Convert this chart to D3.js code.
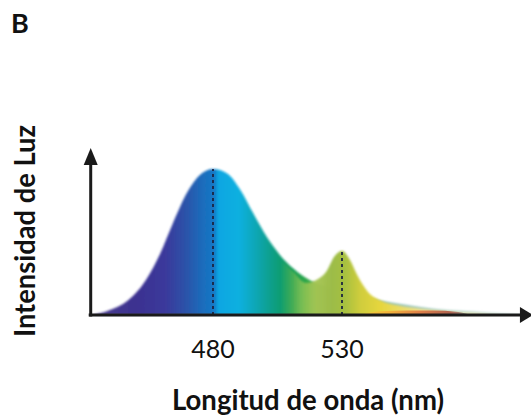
<!DOCTYPE html>
<html>
<head>
<meta charset="utf-8">
<script src="https://cdn.jsdelivr.net/npm/d3@7"></script>
<style>
  body { margin: 0; background: #fff; }
  svg { display: block; }
</style>
</head>
<body>
<div id="chart"></div>
<script>
"use strict";

// Main emission band (nm, relative intensity)
var mainWavelengths = [433, 440, 447, 454, 459.5, 464.5, 470, 475, 480, 485.5, 490.5, 495.5, 501, 506, 511, 518.5, 525, 530, 537, 545, 555, 565, 580, 595, 606];
var mainIntensity   = [0, 0.035, 0.10, 0.24, 0.42, 0.63, 0.84, 0.96, 1.0, 0.97, 0.86, 0.70, 0.53, 0.41, 0.32, 0.23, 0.19, 0.16, 0.13, 0.10, 0.07, 0.045, 0.025, 0.01, 0];

// Secondary narrow band
var peakWavelengths = [506, 511, 516, 520, 524, 527, 530, 533, 536, 540, 545, 552, 560, 570, 585, 592];
var peakIntensity   = [0.38, 0.30, 0.22, 0.24, 0.30, 0.40, 0.44, 0.38, 0.27, 0.16, 0.10, 0.065, 0.045, 0.025, 0.01, 0];

// Warm strip along the baseline
var stripWavelengths = [536, 545, 555, 565, 575, 580];
var stripIntensity   = [0, 0.025, 0.03, 0.03, 0.02, 0];

// Tick labels / marked peaks
var tickValues = [480, 530];
var peakMarks = [{nm: 480, v: 1.0}, {nm: 530, v: 0.44}];

// Colour stops of the spectrum fills: [nm, colour, opacity]
var mainStops = [
  [433, "#4b3f8f", 1], [450, "#3c3190", 1], [462, "#3a3a9c", 1], [470, "#2a55aa", 1],
  [476, "#1b6cbc", 1], [480.5, "#1579c6", 1], [482, "#08a6e2", 1], [490, "#0db0e0", 1],
  [497, "#0ea6b2", 1], [504, "#0c9e80", 1], [511, "#0f9c55", 1], [517, "#36a948", 1],
  [524, "#86b7a0", 1], [540, "#8fbfb2", 1], [565, "#a9d0c6", 1], [606, "#e4f0ec", 1]
];
var peakStops = [
  [506, "#9cc850", 0], [514, "#a8cc58", 0.6], [520, "#a4c450", 0.95], [526, "#9cbc48", 1],
  [531, "#a6c040", 1], [537, "#cfcd3c", 1], [545, "#e6d63c", 1], [560, "#eee08a", 1],
  [592, "#f4f0d0", 1]
];
var stripStops = [
  [536, "#f2d43a", 1], [548, "#f3b43a", 1], [560, "#e08048", 1], [572, "#b06450", 1], [580, "#90a8a0", 1]
];

var width = 531, height = 416;

var svg = d3.select("#chart").append("svg")
  .attr("width", width)
  .attr("height", height);

var x = d3.scaleLinear().domain([480, 530]).range([213, 342]);
var y = d3.scaleLinear().domain([0, 1]).range([315, 169]);

var defs = svg.append("defs");

function makeGradient(id, stops) {
  var g = defs.append("linearGradient")
    .attr("id", id)
    .attr("gradientUnits", "userSpaceOnUse")
    .attr("x1", x(stops[0][0])).attr("x2", x(stops[stops.length - 1][0]))
    .attr("y1", 0).attr("y2", 0);
  var span = stops[stops.length - 1][0] - stops[0][0];
  g.selectAll("stop")
    .data(stops)
    .enter()
    .append("stop")
      .attr("offset", d => (d[0] - stops[0][0]) / span)
      .attr("stop-color", d => d[1])
      .attr("stop-opacity", d => d[2]);
}
makeGradient("mainGrad", mainStops);
makeGradient("peakGrad", peakStops);
makeGradient("stripGrad", stripStops);

defs.append("filter")
  .attr("id", "soft")
  .append("feGaussianBlur")
  .attr("stdDeviation", 0.8);

var area = d3.area()
  .x(d => x(d[0]))
  .y0(y(0))
  .y1(d => y(d[1]))
  .curve(d3.curveMonotoneX);

var mainData = mainWavelengths.map((w, i) => [w, mainIntensity[i]]);
var peakData = peakWavelengths.map((w, i) => [w, peakIntensity[i]]);
var stripData = stripWavelengths.map((w, i) => [w, stripIntensity[i]]);

// Spectrum areas
svg.append("path")
  .datum(mainData)
  .attr("d", area)
  .attr("fill", "url(#mainGrad)")
  .attr("filter", "url(#soft)");

svg.append("path")
  .datum(peakData)
  .attr("d", area)
  .attr("fill", "url(#peakGrad)")
  .attr("filter", "url(#soft)");

svg.append("path")
  .datum(stripData)
  .attr("d", area)
  .attr("fill", "url(#stripGrad)");

// Dotted peak markers
svg.selectAll(".mark")
  .data(peakMarks)
  .enter()
  .append("line")
    .attr("class", "mark")
    .attr("x1", d => x(d.nm))
    .attr("x2", d => x(d.nm))
    .attr("y1", y(0))
    .attr("y2", d => y(d.v))
    .attr("stroke", "#1c2440")
    .attr("stroke-width", 1.8)
    .attr("stroke-dasharray", "3,3");

// Axes with arrowheads
var axisColor = "#1a1a1a";
var x0 = x(432.6), xEnd = x(604);

svg.append("line")
  .attr("x1", x0 - 2).attr("x2", xEnd - 6)
  .attr("y1", y(0)).attr("y2", y(0))
  .attr("stroke", axisColor).attr("stroke-width", 3);

svg.append("line")
  .attr("x1", x0).attr("x2", x0)
  .attr("y1", y(0) + 1.5).attr("y2", 160)
  .attr("stroke", axisColor).attr("stroke-width", 3);

svg.append("path")
  .attr("d", `M${xEnd},${y(0)} L${xEnd - 13},${y(0) - 8} L${xEnd - 13},${y(0) + 8} Z`)
  .attr("fill", axisColor);

svg.append("path")
  .attr("d", `M${x0},148 L${x0 - 7},165 L${x0 + 7},165 Z`)
  .attr("fill", axisColor);

// Tick labels
svg.selectAll(".tick-label")
  .data(tickValues)
  .enter()
  .append("text")
    .attr("class", "tick-label")
    .attr("x", d => x(d))
    .attr("y", 358)
    .attr("text-anchor", "middle")
    .style("font-family", "Lato, 'Open Sans', sans-serif")
    .style("font-size", "25px")
    .attr("fill", "#111")
    .text(d => d);

// Titles
svg.append("text")
  .attr("x", 308)
  .attr("y", 410)
  .attr("text-anchor", "middle")
  .attr("textLength", 272)
  .attr("lengthAdjust", "spacingAndGlyphs")
  .style("font-family", "Lato, 'Open Sans', sans-serif")
  .style("font-size", "28px")
  .style("font-weight", "bold")
  .attr("fill", "#111")
  .text("Longitud de onda (nm)");

svg.append("text")
  .attr("transform", "translate(35,231) rotate(-90)")
  .attr("text-anchor", "middle")
  .attr("textLength", 212)
  .attr("lengthAdjust", "spacingAndGlyphs")
  .style("font-family", "Lato, 'Open Sans', sans-serif")
  .style("font-size", "28px")
  .style("font-weight", "bold")
  .attr("fill", "#111")
  .text("Intensidad de Luz");

svg.append("text")
  .attr("x", 11)
  .attr("y", 33)
  .style("font-family", "Lato, 'Open Sans', sans-serif")
  .style("font-size", "27px")
  .style("font-weight", "bold")
  .attr("fill", "#111")
  .text("B");
</script>
</body>
</html>
